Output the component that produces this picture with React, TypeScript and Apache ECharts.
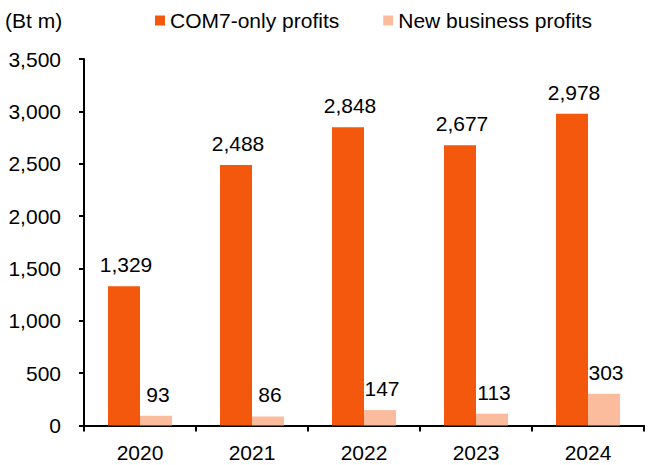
import React, { useEffect, useRef } from "react";
import * as echarts from "echarts";

const categories = ["2020", "2021", "2022", "2023", "2024"];
const com7Profits = [1329, 2488, 2848, 2677, 2978];
const newBizProfits = [93, 86, 147, 113, 303];
const seriesNames = ["COM7-only profits", "New business profits"];
const unitLabel = "(Bt m)";

const FONT = "'Liberation Sans', Arial, sans-serif";
const FS = 21;

export default function App() {
  const ref = useRef<HTMLDivElement>(null);
  useEffect(() => {
    if (!ref.current) return;
    const chart = echarts.init(ref.current, null, { renderer: "svg" });
    const labelStyle = {
      show: true,
      position: "top",
      distance: 11,
      offset: [2, 0],
      fontSize: FS,
      fontFamily: FONT,
      color: "#000",
      formatter: (p: any) => Number(p.value).toLocaleString("en-US"),
    };
    chart.setOption({
      animation: false,
      backgroundColor: "#fff",
      textStyle: { fontFamily: FONT },
      title: {
        text: unitLabel,
        left: 0,
        top: 5,
        textStyle: { fontSize: FS, fontWeight: "normal", color: "#000", fontFamily: FONT },
      },
      legend: {
        data: seriesNames,
        left: 155,
        top: 10,
        padding: 0,
        itemWidth: 10,
        itemHeight: 10,
        itemGap: 44,
        icon: "rect",
        textStyle: { fontSize: FS, color: "#000", fontFamily: FONT, padding: [0, 0, 0, 0] },
      },
      grid: { left: 84, right: 4, top: 59, bottom: 39.5, containLabel: false },
      xAxis: {
        type: "category",
        data: categories,
        boundaryGap: true,
        axisLine: { show: true, lineStyle: { color: "#000", width: 2 } },
        axisTick: { show: true, length: 6, lineStyle: { color: "#000", width: 2 } },
        axisLabel: { fontSize: FS, color: "#000", margin: 16, fontFamily: FONT },
      },
      yAxis: {
        type: "value",
        min: 0,
        max: 3500,
        interval: 500,
        splitLine: { show: false },
        axisLine: { show: true, lineStyle: { color: "#000", width: 2 } },
        axisTick: { show: true, length: 5, lineStyle: { color: "#000", width: 2 } },
        axisLabel: {
          fontSize: FS,
          color: "#000",
          margin: 23,
          fontFamily: FONT,
          formatter: (v: number) => v.toLocaleString("en-US"),
        },
      },
      series: [
        {
          name: seriesNames[0],
          type: "bar",
          data: com7Profits,
          barWidth: 32,
          barGap: "0%",
          itemStyle: { color: "#F4580C" },
          label: labelStyle,
        },
        {
          name: seriesNames[1],
          type: "bar",
          data: newBizProfits,
          barWidth: 32,
          barGap: "0%",
          itemStyle: { color: "#FBBB9D" },
          label: labelStyle,
        },
      ],
    });
    return () => chart.dispose();
  }, []);
  return (
    <div
      ref={ref}
      style={{ position: "fixed", left: 0, top: 0, width: 648, height: 465 }}
    />
  );
}
